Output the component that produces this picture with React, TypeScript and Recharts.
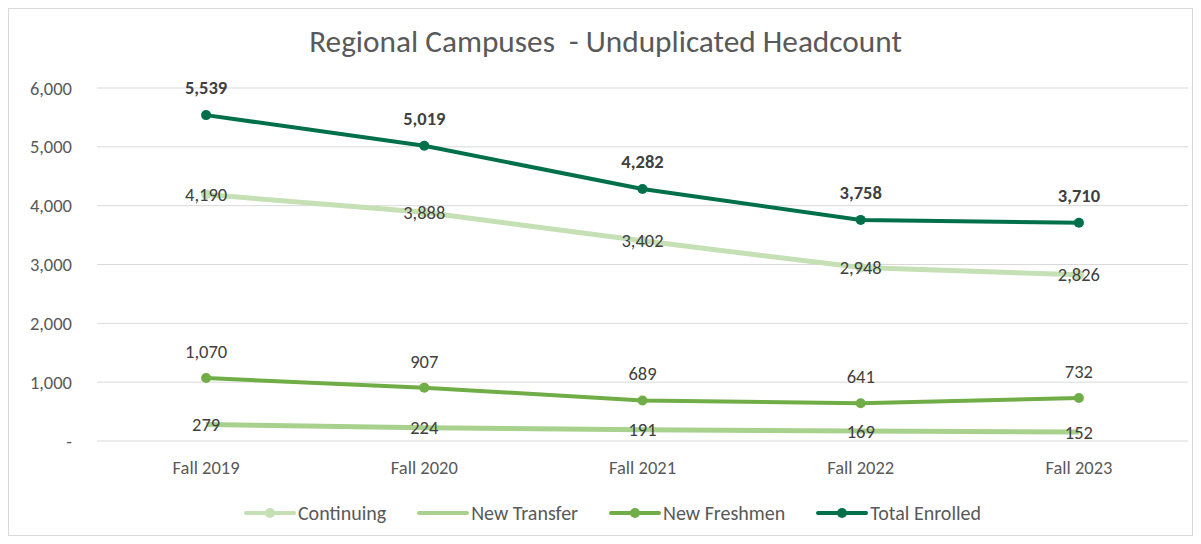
import React from "react";
import { CartesianGrid, LabelList, Legend, Line, LineChart, XAxis, YAxis } from "recharts";

// Regional campuses headcount, fall terms
const terms = ["Fall 2019", "Fall 2020", "Fall 2021", "Fall 2022", "Fall 2023"];
const continuing = [4190, 3888, 3402, 2948, 2826];
const newTransfer = [279, 224, 191, 169, 152];
const newFreshmen = [1070, 907, 689, 641, 732];
const totalEnrolled = [5539, 5019, 4282, 3758, 3710];
const yTicks = [0, 1000, 2000, 3000, 4000, 5000, 6000];

const data = terms.map((term, i) => ({
  term,
  continuing: continuing[i],
  newTransfer: newTransfer[i],
  newFreshmen: newFreshmen[i],
  totalEnrolled: totalEnrolled[i],
}));

const FONT = "Carlito, Lato, 'Open Sans', sans-serif";
const fmt = (v: any) => Number(v).toLocaleString("en-US");

const legendItems = [
  { name: "Continuing", color: "#C5E0B4", dot: true },
  { name: "New Transfer", color: "#A9D18E", dot: false },
  { name: "New Freshmen", color: "#70AD47", dot: true },
  { name: "Total Enrolled", color: "#00704A", dot: true },
];

function LegendContent() {
  return (
    <div style={{ display: "flex", justifyContent: "center", gap: 31, fontFamily: FONT, fontSize: 20, color: "#595959" }}>
      {legendItems.map((it) => (
        <div key={it.name} style={{ display: "flex", alignItems: "center" }}>
          <svg width={52} height={14} style={{ marginRight: 2 }}>
            <line x1={2} y1={7} x2={50} y2={7} stroke={it.color} strokeWidth={4} strokeLinecap="round" />
            {it.dot && <circle cx={26} cy={7} r={5} fill={it.color} />}
          </svg>
          <span>{it.name}</span>
        </div>
      ))}
    </div>
  );
}

const tickStyle = { fontFamily: FONT, fontSize: 18.5, fill: "#595959" };
const labelStyle = { fontFamily: FONT, fontSize: 18.5, fill: "#404040" };

export default function App() {
  return (
    <div style={{ position: "relative", width: 1183, height: 526, border: "1px solid #D9D9D9", background: "#fff" }}>
      <div
        style={{
          position: "absolute",
          top: 13,
          left: 0,
          width: "100%",
          textAlign: "center",
          fontFamily: FONT,
          fontSize: 31.3,
          color: "#595959",
          whiteSpace: "pre",
          paddingLeft: 10,
          boxSizing: "border-box",
        }}
      >
        {"Regional Campuses  - Unduplicated Headcount"}
      </div>
      <LineChart width={1183} height={526} data={data} margin={{ top: 79, right: 4, left: 28, bottom: 40 }}>
        <CartesianGrid vertical={false} stroke="#D9D9D9" />
        <XAxis
          dataKey="term"
          scale="band"
          axisLine={false}
          tickLine={false}
          height={30}
          fontSize={18.5}
          tick={tickStyle}
          tickMargin={14}
        />
        <YAxis
          domain={[0, 6000]}
          ticks={yTicks}
          axisLine={false}
          tickLine={false}
          width={60}
          fontSize={18.5}
          tickMargin={19}
          tick={tickStyle}
          tickFormatter={(v: number) => (v === 0 ? "-" : fmt(v))}
        />
        <Legend verticalAlign="bottom" content={<LegendContent />} wrapperStyle={{ bottom: 10 }} />
        <Line
          dataKey="continuing"
          name="Continuing"
          stroke="#C5E0B4"
          strokeWidth={5}
          dot={{ r: 5, fill: "#C5E0B4", stroke: "#C5E0B4", strokeWidth: 0 }}
          isAnimationActive={false}
        >
          <LabelList dataKey="continuing" position="center" formatter={fmt} style={labelStyle} />
        </Line>
        <Line
          dataKey="newTransfer"
          name="New Transfer"
          stroke="#A9D18E"
          strokeWidth={5}
          dot={false}
          isAnimationActive={false}
        >
          <LabelList dataKey="newTransfer" position="center" formatter={fmt} style={labelStyle} />
        </Line>
        <Line
          dataKey="newFreshmen"
          name="New Freshmen"
          stroke="#70AD47"
          strokeWidth={4}
          dot={{ r: 5, fill: "#70AD47", stroke: "#70AD47", strokeWidth: 0 }}
          isAnimationActive={false}
        >
          <LabelList dataKey="newFreshmen" position="top" offset={20} formatter={fmt} style={labelStyle} />
        </Line>
        <Line
          dataKey="totalEnrolled"
          name="Total Enrolled"
          stroke="#00704A"
          strokeWidth={4}
          dot={{ r: 5, fill: "#00704A", stroke: "#00704A", strokeWidth: 0 }}
          isAnimationActive={false}
        >
          <LabelList
            dataKey="totalEnrolled"
            position="top"
            offset={21}
            formatter={fmt}
            style={{ ...labelStyle, fontWeight: 700 }}
          />
        </Line>
      </LineChart>
    </div>
  );
}
